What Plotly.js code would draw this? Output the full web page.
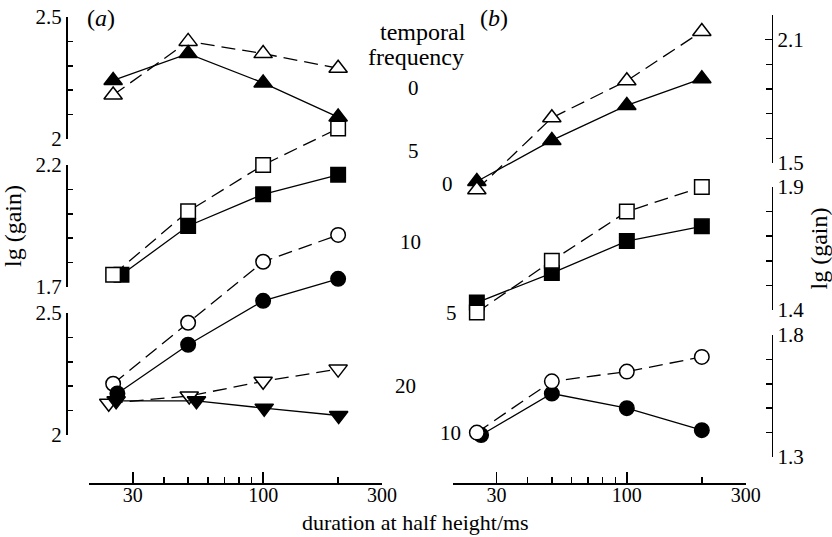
<!DOCTYPE html>
<html><head><meta charset="utf-8">
<script src="https://cdn.plot.ly/plotly-3.0.1.min.js"></script>
<style>html,body{margin:0;padding:0;background:#fff}#chart{width:832px;height:537px}</style>
</head><body><div id="chart"></div>
<script>
// ---------- data ----------
const durations = [25, 50, 100, 200];            // duration at half height / ms
const durTickVals = [20, 30, 100, 300];
const durTickText = ['', '30', '100', '300'];
const durMinorVals = [40, 50, 60, 70, 80, 90, 200];

// panel (a)
const a_tf0_open   = [2.18, 2.40, 2.35, 2.29];
const a_tf0_filled = [2.24, 2.35, 2.23, 2.09];
const a_tf5_open   = [1.75, 2.01, 2.20, 2.35];
const a_tf5_filled = [1.75, 1.95, 2.08, 2.16];
const a_tf5_filled_dur = [27, 50, 100, 200];
const a_tf10_open   = [2.21, 2.46, 2.71, 2.82];
const a_tf10_filled = [2.17, 2.37, 2.55, 2.64];
const a_tf10_filled_dur = [26, 50, 100, 200];
const a_tf20_open   = [2.13, 2.16, 2.22, 2.27];
const a_tf20_open_dur = [24, 50.5, 100, 200];
const a_tf20_filled = [2.14, 2.14, 2.11, 2.08];
const a_tf20_filled_dur = [25.7, 54, 101, 201];

// panel (b)
const b_tf0_open   = [1.37, 1.72, 1.90, 2.14];
const b_tf0_filled = [1.41, 1.61, 1.78, 1.91];
const b_tf5_open   = [1.39, 1.60, 1.80, 1.90];
const b_tf5_filled = [1.43, 1.55, 1.68, 1.74];
const b_tf10_open   = [1.40, 1.61, 1.65, 1.71];
const b_tf10_filled = [1.39, 1.56, 1.50, 1.41];
const b_tf10_filled_dur = [26, 50, 100, 200];

// axis tick labels
const aTop = {range:[2.0, 2.5], major:[2.0, 2.5], labels:['2', '2.5'], minor:[2.1, 2.2, 2.3, 2.4]};
const aMid = {range:[1.7, 2.2], major:[1.7, 2.2], labels:['1.7', '2.2'], minor:[1.8, 1.9, 2.0, 2.1]};
const aBot = {range:[2.0, 2.5], major:[2.0, 2.5], labels:['2', '2.5'], minor:[2.1, 2.2, 2.3, 2.4]};
const bTop = {range:[1.5, 2.22], major:[1.5, 2.1], labels:['1.5', '2.1'], minor:[1.62, 1.74, 1.86, 1.98, 2.22]};
const bMid = {range:[1.4, 1.9], major:[1.4, 1.9], labels:['1.4', '1.9'], minor:[1.5, 1.6, 1.7, 1.8]};
const bBot = {range:[1.3, 1.8], major:[1.3, 1.8], labels:['1.3', '1.8'], minor:[1.4, 1.5, 1.6, 1.7]};

// ---------- layout helpers ----------
const W = 832, H = 537;
const FONT = 'Liberation Serif';
const fx = px => px / W;
const fy = px => 1 - px / H;

function visAxis(spec, topPx, botPx, side, posPx, majorLen, minorLen, extra) {
  const ax = {
    domain: [fy(botPx), fy(topPx)], range: spec.range, autorange: false,
    anchor: 'free', position: fx(posPx), side: side,
    showline: true, linecolor: '#000', linewidth: 1.5,
    showgrid: false, zeroline: false,
    ticks: 'inside', ticklen: majorLen, tickwidth: 1.5, tickcolor: '#000',
    tickmode: 'array', tickvals: spec.major, ticktext: spec.labels,
    tickfont: {family: FONT, size: 21, color: '#000'},
    minor: {tickmode: 'array', tickvals: spec.minor, ticks: 'inside', ticklen: minorLen,
            tickwidth: 1.5, tickcolor: '#000', showgrid: false}
  };
  return Object.assign(ax, extra || {});
}
// hidden full-height axis carrying the same value scale as a visible sub-axis
function dataAxis(spec, topPx, botPx, extra) {
  const d0 = fy(botPx), d1 = fy(topPx);
  const r0 = spec.range[0], r1 = spec.range[1];
  const k = (r1 - r0) / (d1 - d0);
  return Object.assign({
    domain: [0, 1], range: [r0 - d0 * k, r1 + (1 - d1) * k], autorange: false,
    visible: false, showgrid: false, zeroline: false
  }, extra || {});
}
function xAxis(leftPx, rightPx) {
  return {
    domain: [fx(leftPx), fx(rightPx)], type: 'log', autorange: false,
    range: [Math.log10(20), Math.log10(300)],
    anchor: 'free', position: fy(483),
    showline: true, linecolor: '#000', linewidth: 1.5,
    showgrid: false, zeroline: false,
    ticks: 'inside', ticklen: 11, tickwidth: 1.5, tickcolor: '#000',
    tickmode: 'array', tickvals: durTickVals, ticktext: durTickText,
    ticklabelstandoff: -7,
    tickfont: {family: FONT, size: 20, color: '#000'},
    minor: {tickmode: 'array', tickvals: durMinorVals, ticks: 'inside', ticklen: 6,
            tickwidth: 1.5, tickcolor: '#000', showgrid: false}
  };
}

// ---------- traces ----------
function series(x, y, xa, ya, symbol, filled, size) {
  return {
    type: 'scatter', mode: 'lines+markers', x: x, y: y, xaxis: xa, yaxis: ya,
    cliponaxis: false, hoverinfo: 'x+y', showlegend: false,
    line: {color: '#000', width: 1.3, dash: filled ? 'solid' : '14px,7px'},
    marker: {symbol: symbol, size: size, color: filled ? '#000' : '#fff',
             line: {color: '#000', width: 1.5}}
  };
}
const TRI = 16, SQ = 14.5, CIR = 14.5;
const traces = [
  series(durations, a_tf0_open, 'x', 'y', 'triangle-up', false, TRI),
  series(durations, a_tf0_filled, 'x', 'y', 'triangle-up', true, TRI),
  series(a_tf5_filled_dur, a_tf5_filled, 'x', 'y2', 'square', true, SQ),
  series(durations, a_tf5_open, 'x', 'y2', 'square', false, SQ),
  series(durations, a_tf10_open, 'x', 'y3', 'circle', false, CIR),
  series(a_tf10_filled_dur, a_tf10_filled, 'x', 'y3', 'circle', true, CIR),
  series(a_tf20_open_dur, a_tf20_open, 'x', 'y3', 'triangle-down', false, TRI),
  series(a_tf20_filled_dur, a_tf20_filled, 'x', 'y3', 'triangle-down', true, TRI),

  series(durations, b_tf0_filled, 'x2', 'y4', 'triangle-up', true, TRI),
  series(durations, b_tf0_open, 'x2', 'y4', 'triangle-up', false, TRI),
  series(durations, b_tf5_filled, 'x2', 'y5', 'square', true, SQ),
  series(durations, b_tf5_open, 'x2', 'y5', 'square', false, SQ),
  series(b_tf10_filled_dur, b_tf10_filled, 'x2', 'y6', 'circle', true, CIR),
  series(durations, b_tf10_open, 'x2', 'y6', 'circle', false, CIR)
];
// empty carriers so that the visible sub-axes are drawn
['y7', 'y8', 'y9'].forEach(a => traces.push({type: 'scatter', x: [], y: [], xaxis: 'x', yaxis: a, showlegend: false, hoverinfo: 'skip'}));
['y10', 'y11', 'y12'].forEach(a => traces.push({type: 'scatter', x: [], y: [], xaxis: 'x2', yaxis: a, showlegend: false, hoverinfo: 'skip'}));

const titleFont = {family: FONT, size: 24, color: '#000'};
function ann(text, px, py, size) {
  return {text: text, xref: 'paper', yref: 'paper', x: fx(px), y: fy(py),
          xanchor: 'center', yanchor: 'middle', showarrow: false,
          font: {family: FONT, size: size, color: '#000'}};
}

const layout = {
  width: W, height: H,
  margin: {l: 0, r: 0, t: 0, b: 0, pad: 0},
  paper_bgcolor: '#fff', plot_bgcolor: 'rgba(0,0,0,0)',
  showlegend: false,
  font: {family: FONT, size: 21, color: '#000'},
  xaxis: xAxis(89, 382),
  xaxis2: xAxis(452.7, 745.7),
  // hidden data scales
  yaxis:  dataAxis(aTop, 17, 139, {anchor: 'x'}),
  yaxis2: dataAxis(aMid, 165, 287, {overlaying: 'y'}),
  yaxis3: dataAxis(aBot, 313, 435, {overlaying: 'y'}),
  yaxis4: dataAxis(bTop, 15, 163, {anchor: 'x2'}),
  yaxis5: dataAxis(bMid, 187, 310, {overlaying: 'y4'}),
  yaxis6: dataAxis(bBot, 335, 457, {overlaying: 'y4'}),
  // visible sub-axes
  yaxis7:  visAxis(aTop, 17, 139, 'left', 66, 11, 5),
  yaxis8:  visAxis(aMid, 165, 287, 'left', 66, 11, 5,
                   {title: {text: 'lg (gain)', font: titleFont, standoff: 14}}),
  yaxis9:  visAxis(aBot, 313, 435, 'left', 66, 11, 5),
  yaxis10: visAxis(bTop, 15, 163, 'right', 771.7, 7, 6),
  yaxis11: visAxis(bMid, 187, 310, 'right', 771.7, 6, 6,
                   {title: {text: 'lg (gain)', font: titleFont, standoff: 14}}),
  yaxis12: visAxis(bBot, 335, 457, 'right', 771.7, 6, 6),
  annotations: [
    ann('(<i>a</i>)', 101, 18, 24),
    ann('(<i>b</i>)', 494, 18, 24),
    ann('temporal', 423, 32, 24),
    ann('frequency', 416, 57, 24),
    ann('0', 413, 88, 21),
    ann('5', 413, 151, 21),
    ann('10', 410, 242, 21),
    ann('20', 405, 386, 21),
    ann('0', 447, 184, 21),
    ann('5', 451, 313, 21),
    ann('10', 450, 433, 21),
    ann('duration at half height/ms', 415, 522, 22)
  ]
};

Plotly.newPlot('chart', traces, layout, {staticPlot: true, displayModeBar: false});
</script>
</body></html>
